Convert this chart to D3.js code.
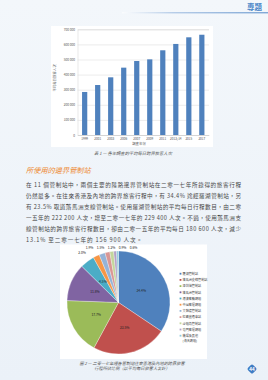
<!DOCTYPE html>
<html><head><meta charset="utf-8">
<script src="https://cdn.jsdelivr.net/npm/d3@7/dist/d3.min.js"></script>
<style>html,body{margin:0;padding:0;background:#edf2f8;}svg{display:block;}</style>
</head><body>
<svg id="c" width="268" height="380"></svg>
<script>
// ---- data ----
const years = ["1999","2001","2003","2006","2007","2009","2011","2013/14","2015","2017"];
const trips = [285000, 331000, 382000, 446000, 490000, 501000, 561000, 603000, 647000, 664000];
const yTicks = [0,100000,200000,300000,400000,500000,600000,700000];
const pieLabels = ["羅湖管制站","落馬洲支線管制站","深圳灣管制站","落馬洲管制站","港澳客輪碼頭","中國客運碼頭","文錦渡管制站","紅磡直通車站","沙頭角管制站","屯門客運碼頭","機場及其他管制站"];
const pieShares = [34.4, 23.5, 17.7, 11.8, 4.5, 2.0, 1.9, 1.5, 1.2, 0.9, 0.6];
const pieColors = ["#4f81bd","#c0504d","#9bbb59","#8064a2","#4bacc6","#f79646","#95b3d7","#d99694","#c3d69b","#b3a2c7","#93cddd"];
const paragraph = [
 "在 11 個管制站中，兩個主要的陸路邊界管制站在二零一七年所錄得的旅客行程",
 "仍然最多。在往來香港及內地的跨界旅客行程中，有 34.4% 途經羅湖管制站，另",
 "有 23.5% 取道落馬洲支線管制站。使用羅湖管制站的平均每日行程數目，由二零",
 "一五年的 222 200 人次，增至二零一七年的 229 400 人次。不過，使用落馬洲支",
 "線管制站的跨界旅客行程數目，卻由二零一五年的平均每日 180 600 人次，減少",
 "13.1% 至二零一七年的 156 900 人次。"
];

const svg = d3.select("#c");
const F = "'Noto Sans CJK TC','Noto Sans CJK SC',sans-serif";

// background
const defs = svg.append("defs");
const g1 = defs.append("linearGradient").attr("id","hl").attr("x1","0").attr("x2","1");
g1.append("stop").attr("offset","0").attr("stop-color","#ffffff").attr("stop-opacity",0.9);
g1.append("stop").attr("offset","0.35").attr("stop-color","#9dbbe0");
g1.append("stop").attr("offset","1").attr("stop-color","#4f86c6");
const g2 = defs.append("linearGradient").attr("id","bg").attr("x1","0").attr("x2","0").attr("y1","0").attr("y2","1");
g2.append("stop").attr("offset","0").attr("stop-color","#f3f7fb");
g2.append("stop").attr("offset","1").attr("stop-color","#ebf1f8");
svg.append("rect").attr("width",268).attr("height",380).attr("fill","url(#bg)");

// header
svg.append("rect").attr("x",122).attr("y",12.3).attr("width",146).attr("height",1).attr("fill","url(#hl)");
svg.append("text").attr("x",262).attr("y",9.5).attr("text-anchor","end")
  .attr("font-family",F).attr("font-weight","bold").attr("font-size",7.5).attr("fill","#4a86c8").text("專題");

// ---- bar chart ----
svg.append("rect").attr("x",51).attr("y",26).attr("width",162).attr("height",121).attr("fill","#fff");
const x = d3.scaleBand().domain(years).range([77.5,209]).paddingInner(0.6).paddingOuter(0.35);
const y = d3.scaleLinear().domain([0,700000]).range([135,29.3]);
const gy = svg.append("g").attr("transform","translate(77.5,0)")
  .call(d3.axisLeft(y).tickValues(yTicks).tickSize(-131.5).tickPadding(2.5)
    .tickFormat(d => d3.format(",")(d).replace(/,/g," ")));
gy.select(".domain").attr("stroke","#d0d0d0").attr("stroke-width",0.5);
gy.selectAll(".tick line").attr("stroke","#d9d9d9").attr("stroke-width",0.5);
gy.selectAll(".tick text").attr("font-family",F).attr("font-size",3.2).attr("fill","#555");
svg.selectAll("rect.bar").data(trips).join("rect").attr("class","bar")
  .attr("x",(d,i)=>x(years[i])).attr("width",x.bandwidth())
  .attr("y",d=>y(d)).attr("height",d=>y(0)-y(d)).attr("fill","#4f81bd");
const gx = svg.append("g").attr("transform","translate(0,135)")
  .call(d3.axisBottom(x).tickSize(0).tickPadding(3));
gx.select(".domain").attr("stroke","#c8c8c8").attr("stroke-width",0.5);
gx.selectAll(".tick text").attr("font-family",F).attr("font-size",3.1).attr("fill","#555");
svg.append("text").attr("x",139).attr("y",145.3).attr("text-anchor","middle")
  .attr("font-family",F).attr("font-size",3.4).attr("fill","#555").text("調查年份");
svg.append("text").attr("transform","translate(56,78) rotate(-90)").attr("text-anchor","middle")
  .attr("font-family",F).attr("font-size",3.4).attr("fill","#666").text("平均每日旅客人次");
svg.append("text").attr("x",133).attr("y",154.5).attr("text-anchor","middle")
  .attr("font-family",F).attr("font-style","italic").attr("font-size",4.3).attr("fill","#555")
  .text("表 1 — 各年調查的平均每日跨界旅客人次");

// heading
svg.append("text").attr("x",26).attr("y",172.5)
  .attr("font-family",F).attr("font-style","italic").attr("font-size",7.2).attr("fill","#ee8a33")
  .text("所使用的邊界管制站");

// paragraph
svg.selectAll("text.para").data(paragraph).join("text").attr("class","para")
  .attr("x",26).attr("y",(d,i)=>187.2 + i*11.0)
  .attr("font-family",F).attr("font-size",5.6).attr("fill","#4a4a4a")
  .each(function(d,i){ if(i < paragraph.length-1) d3.select(this).attr("textLength",215).attr("lengthAdjust","spacing"); else d3.select(this).attr("letter-spacing",0.85); })
  .text(d=>d);

// ---- pie chart ----
svg.append("rect").attr("x",60).attr("y",244.5).attr("width",147).attr("height",114.5).attr("fill","#fff");
const cx = 118.5, cy = 302.5, R = 51.5;
const pie = d3.pie().sort(null).value(d=>d)(pieShares);
const arc = d3.arc().innerRadius(0).outerRadius(R);
const gp = svg.append("g").attr("transform",`translate(${cx},${cy})`);
gp.selectAll("path").data(pie).join("path").attr("d",arc)
  .attr("fill",(d,i)=>pieColors[i]).attr("stroke","#fff").attr("stroke-width",0.3);
const inner = d3.arc().innerRadius(R*0.5).outerRadius(R*0.5);
gp.selectAll("text.in").data(pie.slice(0,5)).join("text").attr("class","in")
  .attr("transform",(d,i)=>{const c=inner.centroid(d);return `translate(${c[0]},${c[1]+1.2})`;})
  .attr("text-anchor","middle").attr("font-family",F).attr("font-size",3.3).attr("fill","#222")
  .text(d=>d.data.toFixed(1)+"%");
// orange label
const outer = d3.arc().innerRadius(R+10).outerRadius(R+10);
gp.selectAll("text.out1").data(pie.slice(5,6)).join("text").attr("class","out1")
  .attr("transform",d=>{const c=outer.centroid(d);return `translate(${c[0]-10},${c[1]+7})`;})
  .attr("text-anchor","middle").attr("font-family",F).attr("font-size",3.3).attr("fill","#222")
  .text(d=>d.data.toFixed(1)+"%");
// small labels in a row above
gp.selectAll("text.out2").data(pie.slice(6)).join("text").attr("class","out2")
  .attr("x",(d,i)=>-29 + i*11).attr("y",-R-1.8)
  .attr("text-anchor","middle").attr("font-family",F).attr("font-size",3.3).attr("fill","#222")
  .text(d=>d.data.toFixed(1)+"%");

// legend
const lg = svg.append("g");
lg.selectAll("rect").data(pieLabels).join("rect")
  .attr("x",179.6).attr("y",(d,i)=>272.8+i*6.2).attr("width",1.8).attr("height",1.8)
  .attr("fill",(d,i)=>pieColors[i]);
lg.selectAll("text").data(pieLabels).join("text")
  .attr("x",182.6).attr("y",(d,i)=>275+i*6.2)
  .attr("font-family",F).attr("font-size",3.1).attr("fill","#444")
  .each(function(d,i){
    const t=d3.select(this);
    if(i===pieLabels.length-1){
      t.append("tspan").text("機場及其他");
      t.append("tspan").attr("x",182.6).attr("dy",5.2).text("(海天碼頭)");
    } else t.text(d);
  });

// pie caption
const cap = ["圖 2 — 二零一七年經各管制站往來香港及內地的跨界旅客","行程所佔比例（以平均每日旅客人次計）"];
svg.selectAll("text.cap").data(cap).join("text").attr("class","cap")
  .attr("x",132).attr("y",(d,i)=>364.5+i*5)
  .attr("text-anchor","middle").attr("font-family",F).attr("font-style","italic")
  .attr("font-size",4.2).attr("fill","#555").text(d=>d);

// page number
const pg = svg.append("g").attr("transform","translate(252,369)");
pg.append("rect").attr("x",-3.6).attr("y",-3.6).attr("width",7.2).attr("height",7.2).attr("rx",1.6)
  .attr("transform","rotate(45)").attr("fill","#3f7cc4");
pg.append("text").attr("y",1.6).attr("text-anchor","middle").attr("font-family",F)
  .attr("font-weight","bold").attr("font-size",4.6).attr("fill","#fff").text("44");
</script>
</body></html>
